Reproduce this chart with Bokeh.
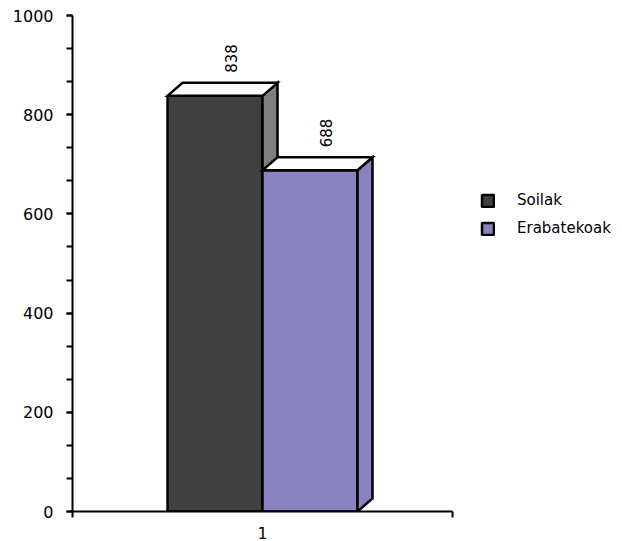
from math import pi
from bokeh.plotting import figure
from bokeh.models import (Range1d, SingleIntervalTicker, FixedTicker, Legend,
                          LegendItem)
from bokeh.core.properties import value
from bokeh.embed import file_html
from bokeh.resources import INLINE

# ---- data ----
categories = ["1"]
series = ["Soilak", "Erabatekoak"]
values = [838, 688]
front_colors = ["#404040", "#8882BE"]
side_colors = ["#808080", "#8882BE"]
top_color = "#FFFFFF"
y_max = 1000
y_tick_interval = 200

FONT = "DejaVu Sans"
BAR_W = 0.25           # width of each bar as fraction of the category
DX = 15 / 380          # 3D depth, x (data units)
DY = 13 / 496 * y_max  # 3D depth, y (data units)
LW = 2.5

p = figure(frame_width=380, frame_height=496, output_backend="svg",
           toolbar_location=None,
           x_range=Range1d(0, len(categories)), y_range=Range1d(0, y_max),
           min_border_left=72, min_border_top=15, min_border_right=160,
           min_border_bottom=30)
p.outline_line_color = None
p.xgrid.visible = False
p.ygrid.visible = False
p.background_fill_color = "white"
p.border_fill_color = "white"

n = len(series)
start = (1 - n * BAR_W) / 2
legend_items = []
for i, (name, v) in enumerate(zip(series, values)):
    l = start + i * BAR_W
    r = l + BAR_W
    front = p.quad(left=[l], right=[r], bottom=[0], top=[v],
                   fill_color=front_colors[i], line_color="black", line_width=LW)
    p.patches(xs=[[r, r + DX, r + DX, r]], ys=[[0, DY, v + DY, v]],
              fill_color=side_colors[i], line_color="black", line_width=LW,
              line_join="miter")
    p.patches(xs=[[l, l + DX, r + DX, r]], ys=[[v, v + DY, v + DY, v]],
              fill_color=top_color, line_color="black", line_width=LW,
              line_join="miter")
    p.text(x=[(l + r) / 2 + DX], y=[v + DY], text=[str(v)], angle=pi / 2,
           text_align="left", text_baseline="middle", y_offset=-10,
           x_offset=1,
           text_font=value(FONT), text_font_size="15px", text_color="black")
    legend_items.append(LegendItem(label=name, renderers=[front]))

# y axis
yax = p.yaxis[0]
yax.ticker = SingleIntervalTicker(interval=y_tick_interval, num_minor_ticks=3)
yax.axis_line_width = 2
yax.major_tick_line_width = 2
yax.minor_tick_line_width = 2
yax.major_tick_out = 6
yax.major_tick_in = 0
yax.minor_tick_out = 6
yax.minor_tick_in = 0
yax.major_label_standoff = 13
yax.major_label_text_font = FONT
yax.major_label_text_font_size = "16px"
yax.major_label_text_color = "black"

# x axis
xax = p.xaxis[0]
xax.ticker = FixedTicker(ticks=[0.5], minor_ticks=[0, 1])
xax.major_label_overrides = {0.5: categories[0]}
xax.axis_line_width = 2
xax.major_tick_out = 0
xax.major_tick_in = 0
xax.minor_tick_out = 6
xax.minor_tick_in = 0
xax.minor_tick_line_width = 2
xax.major_label_standoff = 9
xax.major_label_text_font = FONT
xax.major_label_text_font_size = "16px"
xax.major_label_text_color = "black"

legend = Legend(items=legend_items, location=(28, 274), padding=0, spacing=10,
                margin=0, glyph_width=15, glyph_height=15, label_height=15,
                label_standoff=22, border_line_color=None,
                background_fill_alpha=0, label_text_font=FONT,
                label_text_font_size="15px", label_text_color="black")
p.add_layout(legend, "right")

open("out.html", "w").write(file_html(p, INLINE))
